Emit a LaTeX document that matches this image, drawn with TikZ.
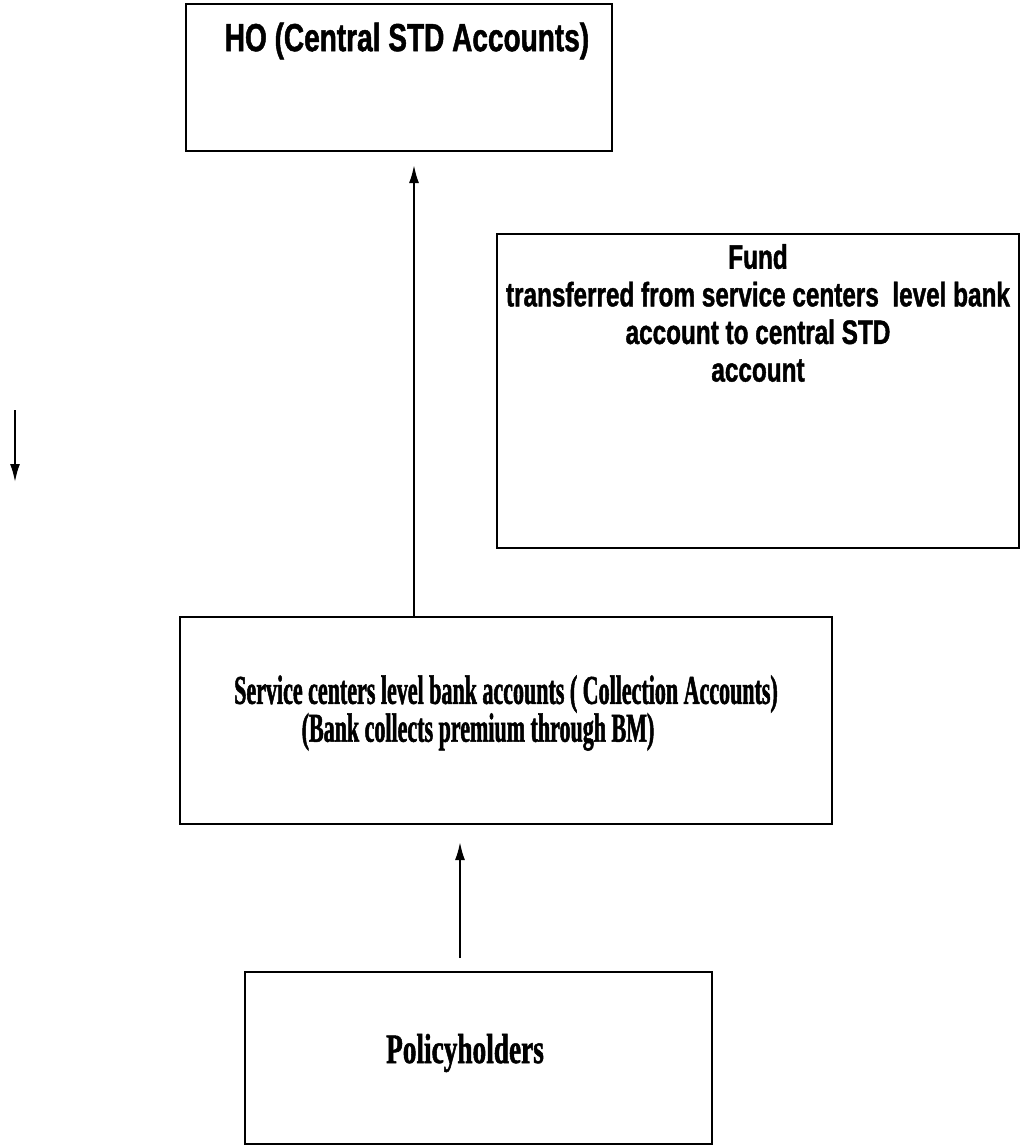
\documentclass[tikz,border=0pt]{standalone}
\usepackage{fontspec}
\newfontfamily\narrowsans[FakeStretch=0.715,FakeBold=1.2]{Liberation Sans}
\newfontfamily\narrowserif[FakeStretch=0.537,FakeBold=1.2]{Liberation Serif}
\newfontfamily\narrowserifb[FakeStretch=0.65,FakeBold=1.2]{Liberation Serif}
\usetikzlibrary{arrows.meta}
\begin{document}
\begin{tikzpicture}[x=0.5pt,y=-0.5pt,
  boxsty/.style={draw=black, line width=1pt, inner sep=0pt, outer sep=0pt, fill=white},
  txt/.style={inner sep=0pt},
  arr/.style={line width=1pt, -{Latex[length=9pt,width=5pt]}}]
\useasboundingbox (0,0) rectangle (1022,1147);
% boxes
\node (ho)  [boxsty, minimum width=213pt, minimum height=73.5pt] at (399,77.5) {};
\node (fund)[boxsty, minimum width=261pt, minimum height=157pt]  at (758,391) {};
\node (svc) [boxsty, minimum width=326pt, minimum height=103.5pt] at (506,720.5) {};
\node (pol) [boxsty, minimum width=233.5pt, minimum height=86pt] at (478.5,1058) {};
% texts
\node (hot) [txt, font=\narrowsans\bfseries\fontsize{19.6}{22}\selectfont] at (407,41) {HO (Central STD Accounts)};
\node (fundt) [txt, align=center, font=\narrowsans\bfseries\fontsize{17}{18.8}\selectfont] at (758,313)
  {Fund\\transferred from service centers\ \ level bank\\account to central STD\\account};
\node (svct1) [txt, font=\narrowserif\bfseries\fontsize{20.5}{22}\selectfont] at (506,694) {Service centers level bank accounts ( Collection Accounts)};
\node (svct2) [txt, font=\narrowserif\bfseries\fontsize{20.5}{22}\selectfont] at (478,732) {(Bank collects premium through BM)};
\node (polt) [txt, font=\narrowserifb\bfseries\fontsize{21}{24}\selectfont] at (465,1053) {Policyholders};
% connectors
\coordinate (ax) at (414,0);
\coordinate (bx) at (460,0);
\draw[arr, shorten >=7pt] (svc.north -| ax) -- (ho.south -| ax);
\draw[arr, shorten <=7pt, shorten >=9pt] (pol.north -| bx) -- (svc.south -| bx);
\coordinate (s1) at (15,410);
\coordinate (s2) at (15,482);
\draw[arr] (s1) -- (s2);
\end{tikzpicture}
\end{document}
